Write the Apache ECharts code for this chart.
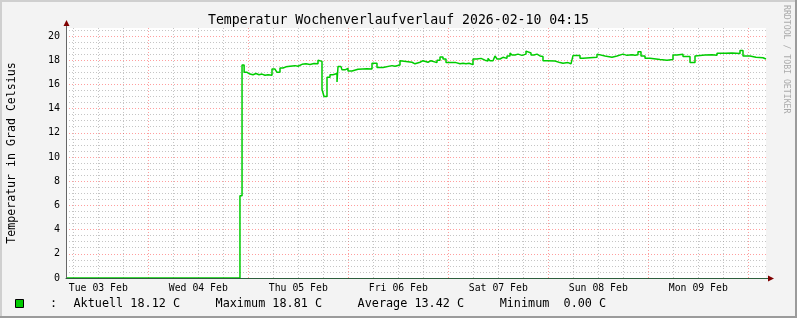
<!DOCTYPE html>
<html><head><meta charset="utf-8">
<script src="https://cdn.jsdelivr.net/npm/echarts@6/dist/echarts.min.js"></script>
<style>html,body{margin:0;padding:0;background:#f3f3f3}#c{width:797px;height:318px}</style>
</head><body><div id="c"></div>
<script>
// hours since 2026-02-03 00:00
const hours = [4.25,46.0,46.5,47.0,47.7,48.41,49.13,49.85,50.57,51.29,52.01,52.73,53.69,54.41,54.89,55.61,56.33,57.05,58.01,59.21,59.93,60.89,61.85,62.81,63.77,64.73,65.21,65.69,66.17,66.89,67.61,68.33,69.29,69.53,70.25,70.49,71.21,71.93,72.89,74.33,76.49,77.69,78.89,80.33,80.81,82.49,83.21,84.41,84.89,87.29,88.01,89.21,89.93,91.13,91.85,92.33,93.29,94.01,94.73,95.45,97.13,97.85,98.81,99.53,100.25,100.97,101.93,102.89,103.85,104.81,105.53,106.01,106.73,107.21,107.69,108.41,109.13,110.09,110.81,111.29,112.01,112.73,113.69,114.65,115.13,115.85,116.57,117.29,118.01,118.73,119.69,121.61,122.81,123.53,124.01,124.73,125.45,125.93,127.61,128.33,131.69,132.17,133.61,135.29,136.49,137.93,138.89,140.09,140.81,141.53,142.25,143.21,144.41,146.81,148.49,149.93,150.89,152.33,154.01,155.21,155.69,157.61,159.29,160.49,162.41,164.09,166.01,166.73,168.41,169.85,171.53,172.25];
const temps = [0,6.8,17.6,17.0,16.85,16.8,16.9,16.8,16.85,16.75,16.8,16.75,17.27,17.2,17.0,17.35,17.45,17.5,17.55,17.5,17.66,17.7,17.65,17.72,17.7,18.0,17.9,15.6,15.0,16.6,16.8,16.9,16.2,17.47,17.4,17.2,17.33,17.1,17.25,17.3,17.27,17.75,17.4,17.3,17.55,17.5,17.6,17.96,17.83,17.7,17.83,17.96,17.83,17.96,17.9,17.8,18.0,18.27,18.1,17.8,17.8,17.7,17.75,17.7,17.75,17.63,18.1,18.15,18.0,17.93,18.15,17.95,18.0,18.35,18.1,18.24,18.15,18.35,18.6,18.43,18.5,18.4,18.5,18.75,18.6,18.43,18.5,18.35,18.3,17.96,17.93,17.8,17.75,17.6,17.8,17.7,17.6,18.38,18.16,18.25,18.5,18.35,18.25,18.35,18.5,18.4,18.45,18.4,18.45,18.7,18.35,18.16,18.05,18.0,18.05,18.43,18.5,18.3,17.8,18.35,18.43,18.45,18.4,18.57,18.6,18.55,18.81,18.35,18.24,18.2,18.1,18.12];
const dayLabels = ['Tue 03 Feb','Wed 04 Feb','Thu 05 Feb','Fri 06 Feb','Sat 07 Feb','Sun 08 Feb','Mon 09 Feb'];
const dayLabelHours = [12,36,60,84,108,132,156];
const yTickValues = [0,2,4,6,8,10,12,14,16,18,20];
const titleText = 'Temperatur Wochenverlaufverlauf 2026-02-10 04:15';
const yAxisTitle = 'Temperatur in Grad Celsius';
const legendText = 'Aktuell 18.12 C     Maximum 18.81 C     Average 13.42 C     Minimum  0.00 C';

const X_MIN = 4.25, X_MAX = 172.25, Y_MIN = 0, Y_MAX = 20.66;
const MONO = "'DejaVu Sans Mono', monospace";

// grid lines (RRDtool style)
const gridMarks = [];
for (let h = 6; h < X_MAX; h += 6) {
  const major = h % 24 === 0;
  gridMarks.push({ xAxis: h, lineStyle: { color: major ? 'rgba(255,0,0,0.38)' : 'rgba(150,150,150,0.55)', type: [1, 2], width: 1 } });
}
for (let v = 0.5; v < Y_MAX; v += 0.5) {
  const major = Math.abs(v % 2) < 1e-9;
  gridMarks.push({ yAxis: v, lineStyle: { color: major ? 'rgba(255,0,0,0.38)' : 'rgba(150,150,150,0.55)', type: [1, 2], width: 1 } });
}

const data = hours.map((h, i) => [h, temps[i]]);

const chart = echarts.init(document.getElementById('c'), null, { renderer: 'canvas' });
chart.setOption({
  animation: false,
  backgroundColor: '#f3f3f3',
  textStyle: { fontFamily: MONO },
  title: {
    text: titleText, left: 'center', top: 9,
    textStyle: { fontFamily: MONO, fontSize: 13.2, fontWeight: 'normal', color: '#000' }
  },
  grid: { left: 66, right: 31, top: 28, bottom: 40, containLabel: false, outerBoundsMode: 'none',
          show: true, backgroundColor: '#ffffff', borderWidth: 0 },
  xAxis: {
    type: 'value', min: X_MIN, max: X_MAX, z: 4,
    axisLine: { show: true, onZero: true, lineStyle: { color: '#2C5E3C', width: 1 } },
    axisTick: { show: false },
    splitLine: { show: false },
    axisLabel: {
      customValues: dayLabelHours, margin: 5,
      fontFamily: MONO, fontSize: 9.8, color: '#000',
      formatter: v => { const i = dayLabelHours.indexOf(v); return i >= 0 ? dayLabels[i] : ''; }
    }
  },
  yAxis: {
    type: 'value', min: Y_MIN, max: Y_MAX, z: 4,
    name: yAxisTitle, nameLocation: 'middle', nameGap: 48, nameRotate: 90,
    nameTextStyle: { fontFamily: MONO, fontSize: 11.6, color: '#000' },
    axisLine: { show: true, lineStyle: { color: '#666', width: 1 } },
    axisTick: { show: false },
    splitLine: { show: false },
    axisLabel: { customValues: yTickValues, margin: 6, fontFamily: MONO, fontSize: 10, color: '#000' }
  },
  series: [
    {
      type: 'line', data: [], z: 1, silent: true,
      markLine: { silent: true, symbol: 'none', z: 1, label: { show: false }, animation: false, data: gridMarks }
    },
    {
      type: 'line', data: data, step: 'end', z: 3, showSymbol: false, symbol: 'none',
      lineStyle: { color: '#00CC00', width: 1.5 }
    }
  ],
  graphic: [
    { type: 'rect', shape: { x: 0, y: 0, width: 797, height: 2 }, style: { fill: '#cfcfcf' }, z: 10 },
    { type: 'rect', shape: { x: 0, y: 0, width: 2, height: 318 }, style: { fill: '#cfcfcf' }, z: 10 },
    { type: 'rect', shape: { x: 795, y: 0, width: 2, height: 318 }, style: { fill: '#9b9b9b' }, z: 10 },
    { type: 'rect', shape: { x: 0, y: 316, width: 797, height: 2 }, style: { fill: '#9b9b9b' }, z: 10 },
    { type: 'line', shape: { x1: 66.5, y1: 28, x2: 66.5, y2: 24 }, style: { stroke: '#666', lineWidth: 1 }, z: 10 },
    { type: 'line', shape: { x1: 766, y1: 278.5, x2: 769, y2: 278.5 }, style: { stroke: '#2C5E3C', lineWidth: 1 }, z: 10 },
    { type: 'polygon', shape: { points: [[63.5, 26], [69.5, 26], [66.5, 20]] }, style: { fill: '#7F0000' }, z: 10 },
    { type: 'polygon', shape: { points: [[768, 275.5], [768, 281.5], [774, 278.5]] }, style: { fill: '#7F0000' }, z: 10 },
    { type: 'text', x: 786, y: 5, rotation: -Math.PI / 2, z: 10,
      style: { text: 'RRDTOOL / TOBI OETIKER', fontFamily: MONO, fontSize: 8.2, fill: '#aaaaaa', align: 'left', verticalAlign: 'middle' } },
    { type: 'rect', shape: { x: 15.5, y: 299.5, width: 8, height: 8 }, style: { fill: '#00CC00', stroke: '#000', lineWidth: 1 }, z: 10 },
    { type: 'text', x: 53.5, y: 303.5, z: 10,
      style: { text: ':', fontFamily: MONO, fontSize: 11.8, fill: '#000', align: 'center', verticalAlign: 'middle' } },
    { type: 'text', x: 73.5, y: 303.5, z: 10,
      style: { text: legendText, fontFamily: MONO, fontSize: 11.8, fill: '#000', align: 'left', verticalAlign: 'middle' } }
  ]
});
</script></body></html>
